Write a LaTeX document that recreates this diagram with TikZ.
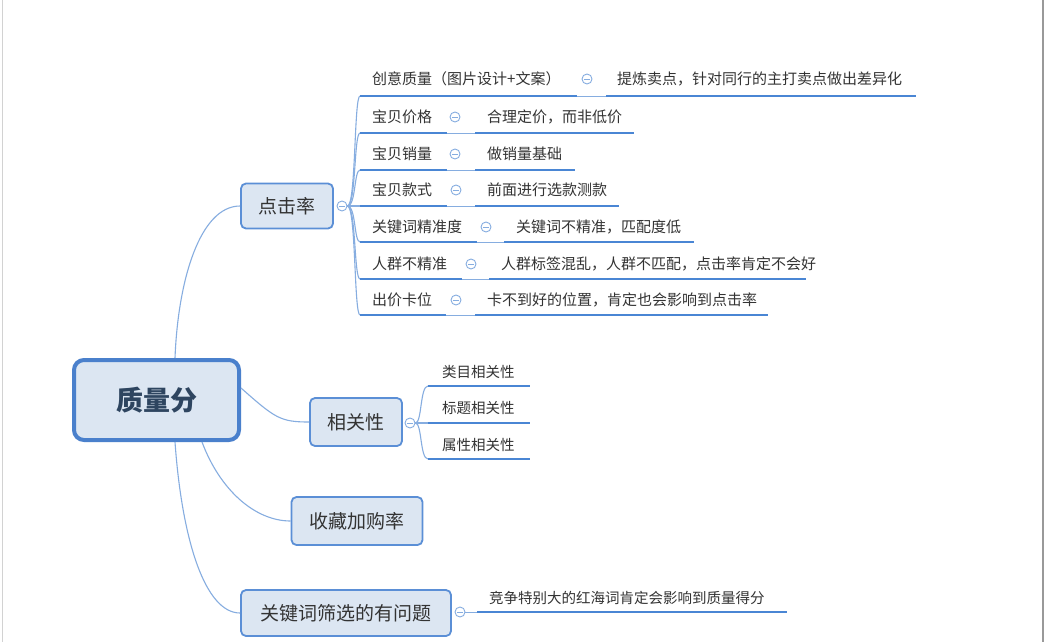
\documentclass[tikz,border=0pt]{standalone}
\usepackage{fontspec}
\setmainfont{Noto Sans CJK SC}
\usetikzlibrary{calc}
\definecolor{boxfill}{HTML}{DCE6F2}
\definecolor{boxline}{HTML}{5B8FD6}
\definecolor{mainline}{HTML}{4A80CC}
\definecolor{uline}{HTML}{4A86D4}
\definecolor{curve}{HTML}{86ADE0}
\definecolor{txt}{HTML}{333333}
\definecolor{maintxt}{HTML}{2E4560}
\begin{document}
\begin{tikzpicture}[x=1pt,y=-1pt,
  topic/.style={draw=boxline, line width=1.8pt, fill=boxfill, rounded corners=5pt, text=txt, font=\fontsize{19}{22}\selectfont, minimum height=46pt, inner sep=0pt},
  central/.style={draw=mainline, line width=4pt, fill=boxfill, rounded corners=10pt, text=maintxt, font=\fontsize{27}{30}\selectfont\bfseries, minimum width=165pt, minimum height=80pt, inner sep=0pt},
  leaf/.style={anchor=west, text=txt, font=\fontsize{15}{17}\selectfont, inner sep=0pt},
  small/.style={anchor=west, text=txt, font=\fontsize{14.5}{17}\selectfont, inner sep=0pt},
  fold/.style={circle, draw=curve, line width=0.9pt, fill=white, minimum size=10pt, inner sep=0pt, path picture={\draw[curve, line width=0.9pt] ([xshift=-2.6pt]path picture bounding box.center) -- ([xshift=2.6pt]path picture bounding box.center);}},
  ul/.style={draw=uline, line width=2.6pt},
  thin/.style={draw=curve, line width=1pt},
  branch/.style={draw=curve, line width=1.1pt}
]
\useasboundingbox (0,0) rectangle (1048,642);
\fill[white] (0,0) rectangle (1048,642);
\draw[gray!35, line width=1pt] (2,0) -- (2,642);
\draw[gray!80, line width=1.2pt] (1043,0) -- (1043,642);

% central & topics
\node[central] (C) at (156.5,400) {质量分};
\node[topic, minimum width=92pt, minimum height=45pt] (T1) at (287,206) {点击率};
\node[topic, minimum width=92pt, minimum height=48pt] (T2) at (356,422) {相关性};
\node[topic, minimum width=131pt, minimum height=48pt] (T3) at (357,521) {收藏加购率};
\node[topic, minimum width=210pt, minimum height=46pt] (T4) at (346,613) {关键词筛选的有问题};

% main branches
\draw[branch] ([xshift=18.5pt]C.north) .. controls (178,280) and (200,206) .. (T1.west);
\draw[branch] ([yshift=12pt]C.east) .. controls (275,418) and (280,422) .. (T2.west);
\draw[branch] ([xshift=45.5pt]C.south) .. controls (220,490) and (255,521) .. (T3.west);
\draw[branch] ([xshift=18.5pt]C.south) .. controls (182,540) and (205,613) .. (T4.west);

% fold markers
\node[fold] (F1) at (342,206) {};
\node[fold] (F2) at (410,423) {};
\node[fold] (F4) at (460,612) {};

% rows of T1
\foreach \i/\yt/\yl/\ea/\cx/\sb/\tx/\eb/\ta/\tb in {
  1/79/96/577/587/606/617/916/{创意质量（图片设计+文案）}/{提炼卖点，针对同行的主打卖点做出差异化},
  2/117/133/447/455/475/487/634/{宝贝价格}/{合理定价，而非低价},
  3/154/170/447/455/475/487/575/{宝贝销量}/{做销量基础},
  4/190/206/447/456/475/487/619/{宝贝款式}/{前面进行选款测款},
  5/227/242/477/486/504/516/694/{关键词精准度}/{关键词不精准，匹配度低},
  6/264/279/462/471/489/501/806/{人群不精准}/{人群标签混乱，人群不匹配，点击率肯定不会好},
  7/300/315/446/456/475/487/768/{出价卡位}/{卡不到好的位置，肯定也会影响到点击率}}{
  \coordinate (a\i) at (360,\yl);
  \coordinate (b\i) at (\ea,\yl);
  \coordinate (c\i) at (\sb,\yl);
  \coordinate (d\i) at (\eb,\yl);
  \draw[branch] (F1.east) .. controls (356,206) and (354,\yl) .. (a\i);
  \draw[thin] (b\i) -- (c\i);
  \draw[ul] (a\i) -- (b\i);
  \draw[ul] (c\i) -- (d\i);
  \node[leaf] (L\i) at (372,\yt) {\ta};
  \node[fold] (G\i) at (\cx,\yt) {};
  \node[leaf] (R\i) at (\tx,\yt) {\tb};
}

% rows of T2
\foreach \j/\yt/\yl/\t in {1/372/386/类目相关性, 2/408/423/标题相关性, 3/445/459/属性相关性}{
  \coordinate (p\j) at (428,\yl);
  \coordinate (q\j) at (530,\yl);
  \draw[branch] (F2.east) .. controls (422,423) and (420,\yl) .. (p\j);
  \draw[ul] (p\j) -- (q\j);
  \node[small] (S\j) at (442,\yt) {\t};
}

% child of T4
\coordinate (k1) at (477,612);
\coordinate (k2) at (787,612);
\draw[thin] (F4.east) -- (k1);
\draw[ul] (k1) -- (k2);
\node[small] (K) at (489,598) {竞争特别大的红海词肯定会影响到质量得分};
\end{tikzpicture}
\end{document}
